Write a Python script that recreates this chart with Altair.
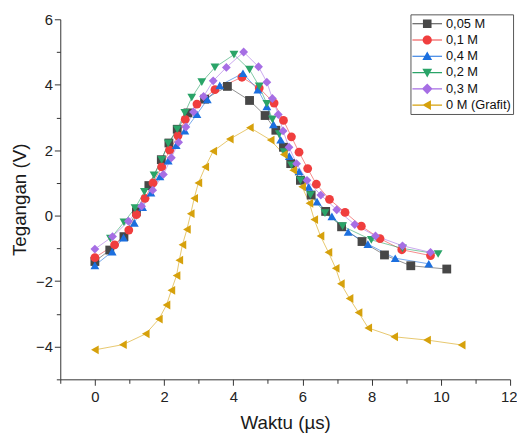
import altair as alt
import pandas as pd

series_names = ["0,05 M", "0,1 M", "0,4 M", "0,2 M", "0,3 M", "0 M (Grafit)"]
colors = ["#474747", "#f03e3e", "#1b6fdf", "#2aa468", "#a66ee4", "#d6a10c"]
marker_shapes = ["square", "circle", "triangle-up", "triangle-down", "diamond", "triangle-left"]

# legend symbols: a short line with the marker on it
_line = "M-1,-0.08L3,-0.08L3,0.08L-1,0.08Z "
legend_paths = [
    _line + "M0.42,-0.58L1.58,-0.58L1.58,0.58L0.42,0.58Z",
    _line + "M0.38,0A0.62,0.62 0 1,1 1.62,0A0.62,0.62 0 1,1 0.38,0Z",
    _line + "M1,-0.66L1.66,0.5L0.34,0.5Z",
    _line + "M0.34,-0.5L1.66,-0.5L1,0.66Z",
    _line + "M1,-0.72L1.72,0L1,0.72L0.28,0Z",
    _line + "M0.34,0L1.5,-0.66L1.5,0.66Z",
]

x_005 = [0.0, 0.43, 0.84, 1.2, 1.56, 1.92, 2.14, 2.38, 2.69, 3.17, 3.83, 4.47, 4.92, 5.23, 5.45, 5.66, 5.94, 6.25, 6.67, 7.13, 7.72, 8.37, 9.13, 10.17]
y_005 = [-1.4, -1.05, -0.64, 0.12, 0.92, 1.71, 2.22, 2.64, 3.14, 3.56, 3.95, 3.52, 3.06, 2.61, 2.09, 1.59, 1.08, 0.63, 0.13, -0.34, -0.79, -1.2, -1.53, -1.63]

x_01 = [0.0, 0.57, 0.98, 1.2, 1.45, 1.68, 1.93, 2.16, 2.4, 2.61, 2.95, 3.47, 4.25, 4.75, 5.18, 5.45, 5.68, 5.9, 6.15, 6.4, 6.78, 7.23, 7.7, 8.24, 8.87, 9.7]
y_01 = [-1.28, -0.89, -0.44, 0.03, 0.53, 1.0, 1.49, 2.0, 2.44, 2.94, 3.41, 3.85, 4.23, 3.9, 3.44, 2.91, 2.41, 1.94, 1.44, 0.96, 0.5, 0.1, -0.32, -0.7, -1.04, -1.22]

x_04 = [0.0, 0.5, 0.83, 1.14, 1.38, 1.62, 1.88, 2.12, 2.35, 2.6, 2.95, 3.25, 3.61, 4.28, 4.71, 4.97, 5.16, 5.37, 5.62, 5.9, 6.18, 6.42, 6.85, 7.32, 7.89, 8.68, 9.65]
y_04 = [-1.52, -1.1, -0.67, -0.22, 0.26, 0.7, 1.2, 1.68, 2.15, 2.6, 3.1, 3.55, 3.98, 4.35, 3.85, 3.34, 2.79, 2.32, 1.82, 1.35, 0.88, 0.43, -0.02, -0.5, -0.87, -1.3, -1.47]

x_02 = [0.45, 0.84, 1.16, 1.43, 1.71, 1.93, 2.12, 2.38, 2.6, 2.8, 3.09, 3.47, 4.02, 4.47, 4.75, 4.97, 5.13, 5.33, 5.47, 5.68, 5.94, 6.23, 6.65, 7.16, 7.99, 8.89, 9.92]
y_02 = [-0.7, -0.2, 0.23, 0.73, 1.23, 1.71, 2.21, 2.64, 3.14, 3.61, 4.08, 4.53, 4.92, 4.46, 3.95, 3.42, 2.94, 2.49, 1.94, 1.54, 1.08, 0.63, 0.08, -0.32, -0.74, -1.0, -1.17]

x_03 = [0.0, 0.51, 0.97, 1.35, 1.67, 1.98, 2.21, 2.42, 2.63, 2.85, 3.14, 3.42, 3.8, 4.3, 4.73, 4.97, 5.13, 5.3, 5.44, 5.61, 5.83, 6.13, 6.53, 6.99, 7.51, 8.11, 8.89, 9.7]
y_03 = [-1.02, -0.64, -0.17, 0.29, 0.78, 1.26, 1.77, 2.24, 2.71, 3.17, 3.64, 4.12, 4.53, 5.0, 4.55, 4.08, 3.58, 3.09, 2.59, 2.09, 1.59, 1.08, 0.63, 0.18, -0.27, -0.62, -0.92, -1.12]

x_0 = [0.0, 0.81, 1.47, 1.85, 2.07, 2.21, 2.36, 2.44, 2.53, 2.66, 2.77, 2.87, 2.99, 3.19, 3.42, 3.9, 4.48, 5.08, 5.46, 5.73, 5.99, 6.2, 6.34, 6.52, 6.75, 6.96, 7.11, 7.36, 7.62, 7.9, 8.65, 9.6, 10.6]
y_0 = [-4.1, -3.94, -3.61, -3.16, -2.73, -2.28, -1.83, -1.36, -0.89, -0.42, 0.06, 0.53, 1.0, 1.49, 1.97, 2.34, 2.69, 2.31, 1.87, 1.39, 0.88, 0.38, -0.12, -0.62, -1.12, -1.61, -2.08, -2.53, -2.96, -3.43, -3.7, -3.8, -3.95]

x_major = [0, 2, 4, 6, 8, 10, 12]
x_minor = [-1, 1, 3, 5, 7, 9, 11]
y_major = [-4, -2, 0, 2, 4, 6]
y_minor = [-5, -3, -1, 1, 3, 5]

all_x = [x_005, x_01, x_04, x_02, x_03, x_0]
all_y = [y_005, y_01, y_04, y_02, y_03, y_0]

rows = []
idx = 0
for name, xs, ys in zip(series_names, all_x, all_y):
    for xv, yv in zip(xs, ys):
        rows.append({"series": name, "x": xv, "y": yv, "idx": idx})
        idx += 1
df = pd.DataFrame(rows)

FONT = "Liberation Sans"
xscale = alt.Scale(domain=[-1, 12], nice=False, zero=False)
yscale = alt.Scale(domain=[-5, 6], nice=False, zero=False)
color_scale = alt.Scale(domain=series_names, range=colors)

main_x_axis = alt.Axis(values=x_major, tickSize=6, labelPadding=4, title="Waktu (µs)",
                       titleFont=FONT, titleFontSize=19, titleFontWeight="normal", titleColor="#1a1a1a",
                       titlePadding=10, labelFont=FONT, labelFontSize=15, labelColor="#222222",
                       domainColor="#333333", tickColor="#333333", grid=False,
                       labelFlush=True, labelFlushOffset=7, labelOverlap=False, orient="bottom")
minor_x_axis = alt.Axis(values=x_minor, tickSize=4, labels=False, domain=False, title=None,
                        grid=False, tickColor="#333333", orient="bottom")
main_y_axis = alt.Axis(values=y_major, tickSize=6, labelPadding=2, title="Tegangan (V)",
                       titleFont=FONT, titleFontSize=19, titleFontWeight="normal", titleColor="#1a1a1a",
                       titlePadding=6, labelFont=FONT, labelFontSize=15, labelColor="#222222",
                       domainColor="#333333", tickColor="#333333", grid=False,
                       labelFlush=False, labelOverlap=False, orient="left")
minor_y_axis = alt.Axis(values=y_minor, tickSize=4, labels=False, domain=False, title=None,
                        grid=False, tickColor="#333333", orient="left")

base = alt.Chart(df)

lines = base.mark_line(strokeWidth=1, opacity=0.6).encode(
    x=alt.X("x:Q", scale=xscale, axis=main_x_axis),
    y=alt.Y("y:Q", scale=yscale, axis=main_y_axis),
    color=alt.Color("series:N", scale=color_scale, legend=None),
)

points = base.mark_point(filled=True, size=80, opacity=1, strokeWidth=0).encode(
    x=alt.X("x:Q", scale=xscale, axis=None),
    y=alt.Y("y:Q", scale=yscale, axis=None),
    color=alt.Color("series:N", scale=color_scale, legend=None),
    shape=alt.Shape("series:N", scale=alt.Scale(domain=series_names, range=marker_shapes), legend=None),
    order=alt.Order("idx:Q"),
)

legend_cfg = dict(title=None, orient="none", legendX=355, legendY=-5, direction="vertical",
                  labelFont=FONT, labelFontSize=13, labelColor="#111111",
                  symbolSize=225, symbolStrokeWidth=0, symbolOpacity=1,
                  labelOffset=19, rowPadding=1.5, padding=2,
                  strokeColor="#555555", fillColor="white")

legend_layer = base.transform_filter("false").mark_point(filled=True, opacity=1).encode(
    x=alt.X("x:Q", scale=xscale, axis=minor_x_axis),
    y=alt.Y("y:Q", scale=yscale, axis=minor_y_axis),
    color=alt.Color("series:N", scale=color_scale, legend=alt.Legend(**legend_cfg)),
    shape=alt.Shape("series:N", scale=alt.Scale(domain=series_names, range=legend_paths),
                    legend=alt.Legend(**legend_cfg)),
)

chart = alt.layer(lines, points, legend_layer).resolve_scale(
    color="independent", shape="independent"
).resolve_axis(
    x="independent", y="independent"
).properties(
    width=456, height=365,
    padding={"left": 2, "top": 1.5, "right": 0, "bottom": 0},
    background="white",
).configure_view(stroke=None)

chart.save("out.html", embed_options={"renderer": "svg", "actions": False})
